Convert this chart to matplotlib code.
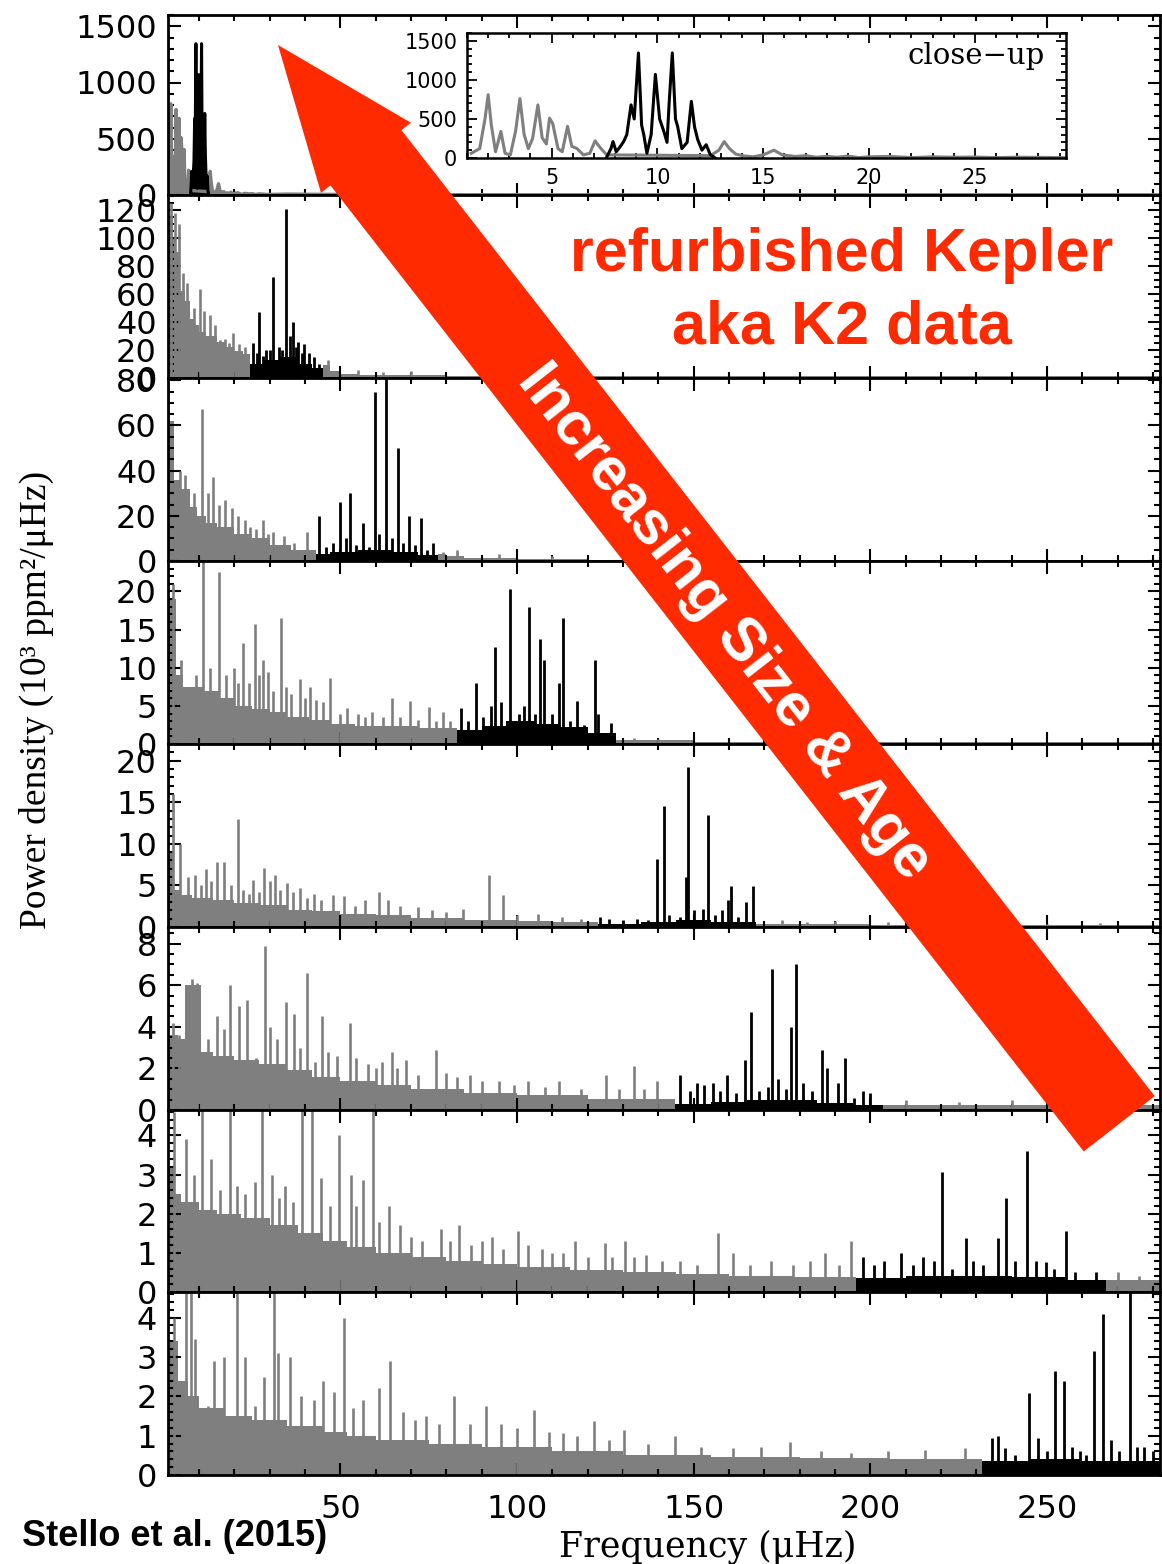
import numpy as np
import matplotlib
matplotlib.use("Agg")
import matplotlib.pyplot as plt
from matplotlib.patches import Polygon
from matplotlib.ticker import MultipleLocator, AutoMinorLocator
from matplotlib import font_manager

GRAY = '#7f7f7f'
RED = '#ff2a00'

# ---------------- data (frequency in muHz, power density) ----------------
# close-up star: top panel and inset
cu_gray_f = [1.2, 1.6, 1.85, 2.0, 2.15, 2.35, 2.6, 2.8, 3.05, 3.3,
             3.5, 3.7, 3.9, 4.1, 4.35, 4.55, 4.75, 4.9, 5.05, 5.3,
             5.5, 5.75, 5.95, 6.2, 6.5, 6.8, 7.05, 7.3, 7.6,
             12.5, 12.9, 13.15, 13.4, 13.7, 14.0, 14.5, 15.0, 15.5, 15.9,
             16.5, 17.0, 17.5, 18.0, 18.5, 19.0, 19.5, 20.0, 21.0, 22.0,
             23.0, 24.0, 25.0, 26.0, 27.0, 28.0, 29.3]
cu_gray_p = [60, 120, 500, 810, 420, 80, 340, 60, 40, 350,
             760, 300, 120, 250, 680, 260, 180, 510, 440, 120,
             80, 405, 150, 120, 40, 60, 220, 130, 40,
             30, 100, 210, 120, 50, 30, 15, 40, 100, 40,
             20, 30, 10, 20, 10, 25, 5, 15, 20, 5,
             15, 10, 12, 5, 10, 8, 5]
cu_black_f = [7.6, 7.8, 7.9, 8.05, 8.25, 8.4, 8.55, 8.75, 8.9, 9.1,
              9.25, 9.35, 9.5, 9.7, 9.9, 10.1, 10.3, 10.45, 10.55, 10.7,
              10.85, 10.95, 11.15, 11.4, 11.6, 11.75, 11.9, 12.1, 12.3, 12.5, 12.7]
cu_black_p = [10, 120, 210, 80, 150, 210, 300, 680, 500, 1345,
              420, 300, 60, 300, 1070, 500, 340, 200, 700, 1345,
              500, 405, 120, 200, 725, 400, 235, 100, 170, 40, 5]
tail_f = [35, 50, 80, 150, 282]
tail_p = [8, 5, 3, 2, 2]

# panel 2
p2_gfloor_f = [1.2, 2.5, 3.5, 4.7, 6, 7.3, 8.5, 10, 12, 15, 17.5, 20, 22.5, 24.5,
               45, 47, 50, 55, 60, 80, 120, 282]
p2_gfloor_v = [115, 100, 90, 62, 55, 42, 38, 33, 30, 26, 22, 19, 17, 0,
               9, 5, 3, 2.5, 2, 1.5, 1.2]
p2_gspk_f = [2.0, 3.2, 4.2, 5.5, 6.5, 8.5, 10.3, 11.5, 13.2, 14.5, 16, 17.4,
             18.5, 19.7, 21.4, 23, 46.6, 55, 62, 70, 95, 115]
p2_gspk_v = [125, 118, 110, 75, 68, 50, 64, 48, 45, 38, 27, 28,
             25, 32, 24, 22, 13, 6, 4, 5, 3, 3]
p2_kfloor_f = [24.5, 28, 33, 38, 42, 45]
p2_kfloor_v = [10, 13, 15, 10, 7]
p2_kspk_f = [25.2, 26.3, 27.1, 28, 29, 30, 31, 32.5, 33.5, 34.7,
             35.7, 36.5, 37.3, 38, 39, 39.8, 41, 42.4, 44]
p2_kspk_v = [25, 18, 47, 16, 20, 20, 72, 22, 20, 121,
             30, 40, 22, 26, 18, 24, 18, 15, 10]

# panel 3
p3_gfloor_f = [1.2, 3, 5, 7.5, 9.5, 12, 15, 20, 25, 30, 36, 43,
               77.5, 80, 85, 100, 120, 282]
p3_gfloor_v = [62, 36, 32, 24, 20, 17, 15, 12, 10, 7, 5, 0,
               3, 2, 1.2, 0.8, 0.6]
p3_gspk_f = [4.5, 6, 8.5, 10.8, 12.5, 14, 15.5, 17.4, 19.4, 21,
             23, 24.5, 26, 28, 29.5, 31, 34, 37, 40.6, 79, 83, 95, 110]
p3_gspk_v = [40, 38, 30, 67.5, 30, 37, 25, 27, 23.5, 20,
             18, 15, 14, 18, 12, 13, 11, 8, 13, 4, 5, 3, 2]
p3_kfloor_f = [43, 47, 55, 65, 72, 77.5]
p3_kfloor_v = [3, 4, 5, 4, 2.5]
p3_kspk_f = [44, 46, 48, 50, 51.5, 52.6, 54.5, 56.5, 58, 59.7,
             61, 63, 64.5, 66.2, 67.8, 69.5, 71, 72.7, 74.5, 76.3]
p3_kspk_v = [20, 6, 8, 26, 10, 30, 7, 17, 6, 75,
             12, 85, 10, 50, 8, 20, 7, 19, 5, 8]

# panel 4
p4_gfloor_f = [1.2, 3.5, 5.5, 7.5, 11, 16, 20, 25, 30, 35, 41, 47, 54, 62, 72, 83,
               128, 150, 282]
p4_gfloor_v = [19, 9, 7.5, 7.5, 7, 6, 5, 4.6, 4.2, 3.6, 3.2, 2.6, 2.4, 2.3, 2.1, 0,
               0.5, 0.3]
p4_gspk_f = [2.5, 5, 9, 11.2, 13, 15.5, 17.5, 19.8, 21, 22.3,
             24, 25.7, 27, 28, 29.6, 31, 33.2, 34.7, 36, 38.7,
             40, 41.5, 43, 45, 47, 50, 52, 55, 57, 59,
             62, 64.7, 67, 69.8, 72, 75, 77, 79, 81, 133, 140]
p4_gspk_v = [21, 11, 9, 26, 10, 22.5, 9, 10, 8, 13.3,
             8, 15.7, 9, 11, 9.5, 7, 16.5, 7.5, 6.5, 8.5,
             6, 7.5, 5.8, 5.5, 8.7, 4, 4.7, 4, 3.5, 4.2,
             3.5, 6, 3.5, 5.7, 3.2, 4.8, 3, 4.2, 3, 0.8, 0.6]
p4_kfloor_f = [83, 90, 97, 105, 112, 120, 128]
p4_kfloor_v = [1.8, 2.4, 3.0, 2.6, 2.2, 1.5]
p4_kspk_f = [84, 86, 88.5, 90.5, 92.5, 93.7, 95.5, 98, 100.5, 102,
             103.5, 105, 106.4, 107.5, 110, 112, 113, 115, 117, 119,
             122, 123, 126.5]
p4_kspk_v = [4.7, 3, 8, 3.5, 5, 12.7, 5.5, 20.3, 4, 5,
             18, 4, 13.8, 11, 4, 8, 16.5, 3, 5.7, 2.5,
             11, 4, 2.8]

# panel 5
p5_gfloor_f = [1.2, 3, 5, 8, 14, 20, 27, 35, 42, 50, 60, 70, 85, 100, 110, 122.8,
               167.7, 200, 282]
p5_gfloor_v = [9, 4.5, 3.8, 3.5, 3.2, 2.9, 2.6, 2.1, 1.9, 1.6, 1.4, 1.1, 0.9, 0.7, 0.6, 0,
               0.35, 0.25]
p5_gspk_f = [2.5, 4.5, 7, 8.9, 10.5, 12, 13.5, 15.2, 17, 19,
             20.9, 22.5, 24, 25.3, 27, 28.5, 30, 31.6, 33, 34.8,
             36.5, 38.6, 40.5, 42.4, 44.5, 48, 51, 54, 57, 60.8,
             63.5, 67, 72, 76, 80, 84.8, 92, 96, 100, 106,
             112.7, 118, 175, 182, 190, 205, 218, 230, 250, 265]
p5_gspk_v = [16, 10, 6, 6.3, 5, 7, 5.5, 7.8, 7.8, 5,
             13, 4.5, 4, 5.7, 4.2, 7.1, 5.5, 6.3, 4.5, 5.3,
             4.2, 4.7, 3.5, 4, 3.2, 3.9, 3.7, 2.5, 3.2, 4.2,
             3.3, 2.5, 2.4, 2, 1.8, 2.2, 6.3, 3.9, 1.5, 1.6,
             1.2, 1.0, 0.8, 0.6, 0.7, 0.6, 0.5, 0.5, 0.4, 0.5]
p5_kfloor_f = [122.8, 135, 145, 155, 167.7]
p5_kfloor_v = [0.4, 0.6, 0.8, 0.6]
p5_kspk_f = [123.4, 126, 130, 134, 137, 139.5, 141.5, 143, 146, 147.8,
             148.5, 150, 152.5, 154, 156, 158, 159.8, 160.5, 162.5, 164.8, 166.8]
p5_kspk_v = [1.2, 1.0, 0.8, 1.0, 0.9, 8.2, 14.5, 1.5, 1.2, 6,
             19.2, 2, 2.2, 13.5, 1.5, 2, 3.3, 4.9, 1.2, 3, 4.9]

# panel 6
p6_gfloor_f = [1.2, 4, 6, 10.5, 14, 20, 27, 35, 42, 50, 60, 70, 85, 100, 120, 144.6,
               203.6, 282]
p6_gfloor_v = [3.6, 3.4, 6.0, 2.8, 2.6, 2.4, 2.2, 1.9, 1.6, 1.4, 1.2, 1.0, 0.8, 0.7, 0.55, 0,
               0.25]
p6_gspk_f = [2.5, 4.3, 8, 9.5, 12.4, 15.1, 17, 18.8, 21.2, 23.6,
             26, 28.6, 30, 32, 34.7, 36.8, 38.5, 40.5, 42.8, 44.9,
             46.5, 49, 52.6, 54.3, 57.7, 60, 61.8, 64.5, 66, 68.5,
             72, 77, 80, 83, 86.8, 90, 94.9, 99, 103, 108,
             112, 118, 125.3, 129, 133, 136, 139.5, 210, 225, 240, 260, 275]
p6_gspk_v = [4.2, 3.6, 6.3, 6.1, 3.4, 4.5, 3.9, 6.0, 5.0, 5.3,
             2.5, 7.9, 4.0, 3.4, 5.2, 4.6, 3.0, 6.6, 2.3, 4.5,
             2.8, 2.6, 4.2, 2.5, 2.2, 2.0, 2.3, 2.8, 2.0, 2.4,
             1.7, 2.9, 1.8, 1.6, 1.7, 1.4, 1.4, 1.2, 1.4, 1.1,
             1.4, 1.0, 1.7, 1.0, 2.1, 1.0, 1.4, 0.5, 0.4, 0.5, 0.4, 0.4]
p6_kfloor_f = [144.6, 155, 165, 175, 185, 195, 203.6]
p6_kfloor_v = [0.3, 0.4, 0.5, 0.5, 0.35, 0.25]
p6_kspk_f = [146, 149, 151, 153, 155.4, 157.5, 159.5, 162, 164.5, 166.2,
             168.5, 171, 172.3, 174, 176, 177.6, 179, 181, 183.5, 186.2,
             187.6, 190.8, 192.8, 195.5, 198, 200]
p6_kspk_v = [1.7, 0.9, 1.3, 1.2, 1.3, 0.9, 1.7, 0.8, 2.4, 4.7,
             0.9, 1.1, 6.8, 1.5, 1.0, 4.0, 7.0, 1.3, 0.9, 2.9,
             2.0, 1.3, 2.5, 0.6, 0.9, 0.8]

# panel 7
p7_gfloor_f = [1.2, 3, 5, 10, 15, 22, 30, 38, 45, 52, 60, 70, 80, 90, 100, 115, 130,
               145, 160, 178, 196, 266.7, 282]
p7_gfloor_v = [3.2, 2.5, 2.3, 2.1, 2.0, 1.9, 1.7, 1.5, 1.3, 1.15, 1.0, 0.9, 0.8, 0.72,
               0.65, 0.55, 0.5, 0.45, 0.42, 0.38, 0, 0.3]
p7_gspk_f = [3, 6.2, 8.5, 10.7, 13.4, 16, 18.8, 20.7, 23, 25.7,
             27.9, 30.6, 32.5, 34.2, 36.5, 39.1, 42, 44.6, 47, 49.6,
             52.9, 54.5, 56.5, 59.2, 61, 63.8, 66.8, 70, 73, 78.6,
             81, 83.5, 87, 90, 93, 96, 100.4, 103, 107.2, 110,
             113, 116.3, 120, 124.8, 127, 130.6, 133, 136.6, 141, 146,
             151, 156.9, 161, 166, 172, 178, 183, 187.3, 191, 194.6,
             270, 276]
p7_gspk_v = [4.6, 3.9, 3.0, 5, 3.4, 2.6, 5, 2.7, 2.5, 2.8,
             5, 3.0, 2.4, 2.7, 2.3, 5, 5, 2.9, 2.2, 4.0,
             3.0, 2.2, 2.85, 5, 1.8, 2.2, 1.7, 1.4, 1.3, 1.6,
             1.3, 1.7, 1.2, 1.3, 1.4, 1.1, 1.55, 1.2, 1.1, 1.0,
             1.0, 1.3, 0.9, 1.25, 0.9, 1.3, 0.9, 0.95, 0.8, 0.8,
             0.7, 1.5, 1.0, 0.7, 0.8, 0.7, 0.8, 1.0, 0.7, 1.3,
             0.5, 0.4]
p7_kfloor_f = [196, 210, 225, 240, 255, 266.7]
p7_kfloor_v = [0.35, 0.4, 0.4, 0.38, 0.3]
p7_kspk_f = [198, 201, 204, 208.7, 212, 215, 218, 220.3, 223, 227.2,
             229, 232, 236.2, 238.4, 241, 244.4, 247, 249.8, 252, 255.3, 258, 263.8]
p7_kspk_v = [0.9, 0.7, 0.8, 1.0, 0.7, 0.9, 0.8, 3.07, 0.6, 1.37,
             0.8, 0.7, 1.37, 2.4, 0.8, 3.6, 0.8, 0.77, 0.6, 1.55, 0.5, 0.5]

# panel 8
p8_gfloor_f = [1.2, 4, 7, 10, 17, 25, 35, 45, 52, 60, 75, 90, 110, 130, 155, 180, 205, 231.7]
p8_gfloor_v = [3.4, 2.4, 2.0, 1.7, 1.5, 1.4, 1.25, 1.1, 1.0, 0.9, 0.8, 0.7, 0.6, 0.5,
               0.45, 0.42, 0.4]
p8_gspk_f = [3, 6.2, 7.6, 8.9, 12.5, 14.3, 17, 20.7, 23, 25.7,
             28.4, 31.2, 32.4, 35.7, 38.8, 42.4, 45.1, 48.2, 51.1, 53.5,
             56.5, 60.9, 64.1, 67.8, 71, 74.1, 78, 82.2, 86.8, 91.3,
             95.5, 100, 104.9, 109, 113, 117, 121.7, 126, 130.3, 137,
             144.7, 152, 161, 169, 177.4, 186, 194.6, 205, 215.4, 226.8]
p8_gspk_v = [4.0, 5, 5, 3.45, 1.75, 2.9, 3.0, 5, 3.0, 1.75,
             2.5, 5, 3.1, 3.0, 2.0, 1.9, 2.4, 2.1, 4.0, 1.7,
             1.9, 2.2, 2.9, 1.6, 1.4, 1.5, 1.3, 2.0, 1.3, 1.75,
             1.3, 1.2, 1.65, 1.1, 1.06, 1.0, 1.36, 0.9, 1.15, 0.8,
             0.98, 0.7, 0.68, 0.7, 0.85, 0.6, 0.55, 0.6, 0.64, 0.68]
p8_kfloor_f = [231.7, 245, 260, 282]
p8_kfloor_v = [0.35, 0.4, 0.35]
p8_kspk_f = [234.4, 236.2, 238, 241, 244.9, 247.5, 250, 252.2, 254.7, 257,
             259.4, 261, 263.4, 265.8, 268, 270.5, 273.4, 275.5, 277.5, 280]
p8_kspk_v = [0.94, 0.98, 0.68, 0.5, 2.08, 0.94, 0.6, 2.64, 2.38, 0.7,
             0.6, 0.5, 3.15, 4.08, 0.9, 0.6, 5, 0.7, 0.72, 0.6]

y_max = [1600, 131, 81, 24, 22, 8.8, 4.65, 4.65]
y_major = [500, 20, 20, 5, 5, 2, 1, 1]
y_minor = [5, 4, 4, 5, 5, 4, 5, 5]

# ---------------- figure ----------------
W, H = 1162, 1564
fig = plt.figure(figsize=(W / 100, H / 100), dpi=100)


def px(x, y):
    return x / W, 1 - y / H


bounds = [15, 195, 378, 561, 744, 927, 1110, 1292, 1475]
axes = []
for i in range(8):
    top, bot = bounds[i], bounds[i + 1]
    ax = fig.add_axes([168 / W, 1 - bot / H, (1160 - 168) / W, (bot - top) / H])
    ax.set_xlim(1.2, 282)
    ax.set_ylim(0, y_max[i])
    ax.xaxis.set_major_locator(MultipleLocator(50))
    ax.xaxis.set_minor_locator(MultipleLocator(10))
    ax.yaxis.set_major_locator(MultipleLocator(y_major[i]))
    ax.yaxis.set_minor_locator(AutoMinorLocator(y_minor[i]))
    ax.tick_params(which='both', direction='in', top=True, right=True, width=1.5)
    ax.tick_params(which='major', length=9, labelsize=23, pad=8)
    ax.tick_params(which='minor', length=4.5)
    ax.tick_params(axis='x', labelbottom=(i == 7), pad=14)
    for s in ax.spines.values():
        s.set_linewidth(2)
    axes.append(ax)

# top panel: same star as the close-up
ax = axes[0]
ax.fill_between(cu_gray_f + tail_f, cu_gray_p + tail_p, color=GRAY, lw=0)
ax.plot(cu_gray_f + tail_f, cu_gray_p + tail_p, color=GRAY, lw=2.4)
ax.fill_between(cu_black_f, cu_black_p, color='black', lw=0)
ax.plot(cu_black_f, cu_black_p, color='black', lw=2.2)

panels = [
    (p2_gfloor_f, p2_gfloor_v, p2_gspk_f, p2_gspk_v, p2_kfloor_f, p2_kfloor_v, p2_kspk_f, p2_kspk_v),
    (p3_gfloor_f, p3_gfloor_v, p3_gspk_f, p3_gspk_v, p3_kfloor_f, p3_kfloor_v, p3_kspk_f, p3_kspk_v),
    (p4_gfloor_f, p4_gfloor_v, p4_gspk_f, p4_gspk_v, p4_kfloor_f, p4_kfloor_v, p4_kspk_f, p4_kspk_v),
    (p5_gfloor_f, p5_gfloor_v, p5_gspk_f, p5_gspk_v, p5_kfloor_f, p5_kfloor_v, p5_kspk_f, p5_kspk_v),
    (p6_gfloor_f, p6_gfloor_v, p6_gspk_f, p6_gspk_v, p6_kfloor_f, p6_kfloor_v, p6_kspk_f, p6_kspk_v),
    (p7_gfloor_f, p7_gfloor_v, p7_gspk_f, p7_gspk_v, p7_kfloor_f, p7_kfloor_v, p7_kspk_f, p7_kspk_v),
    (p8_gfloor_f, p8_gfloor_v, p8_gspk_f, p8_gspk_v, p8_kfloor_f, p8_kfloor_v, p8_kspk_f, p8_kspk_v),
]
for ax, (gf, gv, gsf, gsv, kf, kv, ksf, ksv) in zip(axes[1:], panels):
    ax.stairs(gv, gf, fill=True, color=GRAY, lw=0)
    ax.vlines(gsf, 0, gsv, color=GRAY, lw=1.9)
    ax.stairs(kv, kf, fill=True, color='black', lw=0)
    ax.vlines(ksf, 0, ksv, color='black', lw=2.0)

# inset close-up
ins = fig.add_axes([467 / W, 1 - 158 / H, (1066 - 467) / W, (158 - 33) / H])
ins.plot(cu_gray_f, cu_gray_p, color=GRAY, lw=2.2)
ins.plot(cu_black_f, cu_black_p, color='black', lw=2.2)
ins.set_xlim(1, 29.3)
ins.set_ylim(0, 1600)
ins.xaxis.set_major_locator(MultipleLocator(5))
ins.xaxis.set_minor_locator(MultipleLocator(1))
ins.yaxis.set_major_locator(MultipleLocator(500))
ins.yaxis.set_minor_locator(MultipleLocator(100))
ins.tick_params(which='both', direction='in', top=True, right=True, width=1.3)
ins.tick_params(which='major', length=7, labelsize=15, pad=7)
ins.tick_params(which='minor', length=3.5)
for s in ins.spines.values():
    s.set_linewidth(1.8)
ins.text(0.965, 0.93, 'close\u2212up', transform=ins.transAxes, ha='right', va='top',
         family='DejaVu Serif', fontsize=21)

# axis labels
fig.text(*px(36, 700), 'Power density (10\u00b3 ppm\u00b2/\u03bcHz)', rotation=90,
         ha='center', va='center', family=['Liberation Serif', 'DejaVu Serif'], fontsize=27)
fig.text(*px(708, 1547), 'Frequency (\u03bcHz)', ha='center', va='center',
         family='DejaVu Serif', fontsize=25)

# citation
try:
    font_manager.findfont('Liberation Sans Narrow', fallback_to_default=False)
    fig.text(*px(22, 1537), 'Stello et al. (2015)', ha='left', va='center',
             family='Liberation Sans Narrow', fontweight='bold', fontsize=31)
except ValueError:
    fig.text(*px(22, 1537), 'Stello et al. (2015)', ha='left', va='center',
             family='Liberation Sans', fontweight='bold', fontsize=26)

# red annotation texts
fig.text(*px(842, 255), 'refurbished Kepler', ha='center', va='center', color=RED,
         family='Liberation Sans', fontweight='bold', fontsize=44)
fig.text(*px(842, 328), 'aka K2 data', ha='center', va='center', color=RED,
         family='Liberation Sans', fontweight='bold', fontsize=44)

# big red arrow
tip = np.array([278.0, 45.0])
ang = np.arctan2(1078.5, 841.0)
u = np.array([np.cos(ang), np.sin(ang)])
n = np.array([np.sin(ang), -np.cos(ang)])
head_len, head_half, shaft_half, total = 143, 57, 45, 1368
pts = [tip,
       tip + head_len * u + head_half * n,
       tip + head_len * u + shaft_half * n,
       tip + total * u + shaft_half * n,
       tip + total * u - shaft_half * n,
       tip + head_len * u - shaft_half * n,
       tip + head_len * u - head_half * n]
arrow = Polygon([px(*p) for p in pts], closed=True, transform=fig.transFigure,
                facecolor=RED, edgecolor='none', zorder=20)
fig.add_artist(arrow)
fig.text(*px(724, 622), 'Increasing Size & Age', rotation=-np.degrees(ang),
         rotation_mode='anchor', ha='center', va='center', color='white',
         family='Liberation Sans', fontweight='bold', fontsize=44, zorder=21)

fig.savefig('out.png', dpi=100)
